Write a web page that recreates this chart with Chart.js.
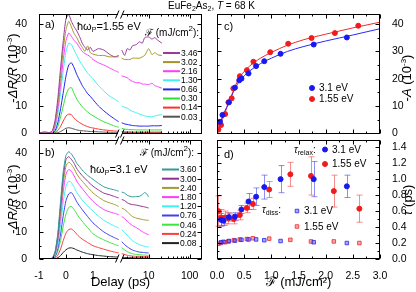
<!DOCTYPE html>
<html lang="en">
<head>
<meta charset="UTF-8">
<title>EuFe2As2 pump-probe</title>
<script src="https://cdn.jsdelivr.net/npm/chart.js"></script>
<style>
  body { margin: 0; background: #fff; }
  #wrap { position: relative; width: 416px; height: 292px; overflow: hidden;
          font-family: 'Liberation Sans', Arial, sans-serif; color: #000; }
  canvas { position: absolute; left: 0; top: 0; }
  .t { position: absolute; white-space: nowrap; font-size: 11px; line-height: 11px; }
  .s { font-size: 10px; line-height: 10px; }
  .t sub { font-size: 7px; line-height: 0; vertical-align: -2px; }
  .t sup, .v sup { font-size: 8px; line-height: 0; vertical-align: 5px; }
  .v { position: absolute; white-space: nowrap; font-size: 13px; line-height: 13px;
       transform: translate(-50%, -50%) rotate(-90deg); }
</style>
</head>
<body>
<div id="wrap">
  <canvas id="ca" width="416" height="292"></canvas>
  <canvas id="cb" width="416" height="292"></canvas>
  <canvas id="cc" width="416" height="292"></canvas>
  <canvas id="cd" width="416" height="292"></canvas>

  <div class="t s" style="left:168px;top:1px">EuFe<sub>2</sub>As<sub>2</sub>, <i>T</i> = 68 K</div>

  <div class="t" style="left:45px;top:19px">a)</div>
  <div class="t" style="left:77px;top:21px">ħω<sub>P</sub>=1.55 eV</div>
  <div class="t s" style="left:145px;top:28px">ℱ (mJ/cm<sup>2</sup>):</div>

  <div class="t" style="left:45px;top:147px">b)</div>
  <div class="t" style="left:90px;top:164px">ħω<sub>P</sub>=3.1 eV</div>
  <div class="t s" style="left:140px;top:148px">ℱ (mJ/cm<sup>2</sup>):</div>

  <div class="t" style="left:224px;top:21px">c)</div>
  <div class="t" style="left:224px;top:149px">d)</div>
  <div class="t s" style="left:294px;top:145px"><i>τ</i><sub>relax</sub>:</div>
  <div class="t s" style="left:262px;top:205px"><i>τ</i><sub>diss</sub>:</div>

  <div class="v" style="left:12px;top:68px">-<i>ΔR/R</i> (10<sup>-3</sup>)</div>
  <div class="v" style="left:12px;top:199px">-<i>ΔR/R</i> (10<sup>-3</sup>)</div>
  <div class="v" style="left:406px;top:78px">-<i>A</i> (10<sup>-3</sup>)</div>
  <div class="v" style="left:407px;top:200px"><i>τ</i> (ps)</div>
</div>

<script>
// ---------------- data ----------------
// delay axis: linear up to 2 ps, log after that
const delayTicks = [-1, 0, 1, 10, 100];
const BREAK = 2;

// panel a, pump 1.55 eV
const tA = [-1, -0.8, -0.6, -0.5, -0.4, -0.3, -0.2, -0.1, 0, 0.1, 0.2, 0.3, 0.4, 0.5, 0.6, 0.7, 0.8, 0.9, 1.0,
            1.2, 1.4, 1.6, 1.8, 1.95, 2.05, 2.2, 2.6, 3, 3.5, 4, 5, 6, 7, 8, 10, 12, 14, 17, 21];
const a346 = [0, 0.5, 0.2, 1.0, 5, 13, 24, 34, 42, 43.5, 41, 39, 37.5, 35.5, 33, 31.5, 30.5, 31.5, 30,
              31, 30.5, 29, 28, 28.5, null, 30.5, 28.5, 31, 30.5, 32, 32.5, 33.5, 33, 35, 35.3, 34.5, 35, 34, 33];
const a302 = [0, 0, 0.3, 0.8, 4, 11, 21, 31, 38, 41, 39, 36.5, 35, 33, 31.5, 30, 32, 29.5, 29,
              28.5, 28.5, 28, 28, 28, null, 27.5, 27, 27, 27, 27.5, 27.5, 27.5, 28, 28.5, 31, 28.8, 29.5, 28.7, 28.5];
const a216 = [0, 0, 0, 0, 3, 9, 18, 27, 34, 36.7, 35.5, 34, 33, 31.5, 30, 29.2, 28.7, 28, 27,
              25.8, 25, 24, 23, 22.3, null, 21, 20.7, 20.3, 19.5, 19, 18.5, 18.5, 18, 18, 17.8, 18.3, 17.5, 17, 16.5];
const a130 = [0, 0, 0, 0, 2, 7, 15, 23, 30, 33, 32.5, 30.5, 28.5, 26.5, 25, 23.5, 22, 21, 20,
              17.5, 15.5, 13.7, 12.5, 11.5, null, 10, 9.5, 9.2, 8.5, 8, 7.5, 7, 6.6, 6.3, 6.1, 6.0, 6.3, 6.6, 6.9];
const a066 = [0, 0, 0, 0, 1, 4, 9, 15, 21, 25, 25.8, 24, 21.5, 19.5, 17.5, 16, 14.5, 13.5, 12.3,
              10, 8.2, 6.6, 5.2, 4.2, null, 3.8, 3.4, 3.2, 3.0, 2.8, 2.7, 2.6, 2.6, 2.6, 2.6, 2.7, 2.7, 2.7, 2.8];
const a030 = [0, 0, 0, 0, 0.5, 2.5, 6, 10, 14, 16.3, 16.7, 14.5, 12.5, 11, 9.7, 8.7, 7.8, 7, 6.4,
              5.2, 4.2, 3.4, 2.6, 2.2, null, 1.8, 1.5, 1.4, 1.3, 1.3, 1.2, 1.2, 1.2, 1.2, 1.2, 1.2, 1.2, 1.2, 1.2];
const a014 = [0, 0, 0, 0, 0.2, 1, 2.5, 4.5, 6.3, 7, 6.8, 5.5, 4.6, 3.9, 3.3, 2.8, 2.4, 2.1, 1.9,
              1.5, 1.2, 1.0, 0.8, 0.7, null, 0.6, 0.5, 0.5, 0.5, 0.4, 0.4, 0.4, 0.4, 0.4, 0.4, 0.4, 0.4, 0.4, 0.4];
const a003 = [0, 0, 0, 0, 0, 0.2, 0.6, 1.2, 1.8, 2.0, 1.8, 1.5, 1.2, 1.0, 0.9, 0.8, 0.7, 0.6, 0.6,
              0.5, 0.4, 0.35, 0.3, 0.3, null, 0.3, 0.25, 0.2, 0.2, 0.2, 0.2, 0.2, 0.2, 0.2, 0.2, 0.2, 0.2, 0.2, 0.2];
const fluA = ['3.46', '3.02', '2.16', '1.30', '0.66', '0.30', '0.14', '0.03'];
const colA = ['#9c3a9c', '#a29526', '#ff3cff', '#40f0f0', '#2020f0', '#30e030', '#ff3030', '#555555'];

// panel b, pump 3.1 eV
const tB = [-1, -0.8, -0.6, -0.5, -0.4, -0.3, -0.2, -0.1, 0, 0.1, 0.2, 0.3, 0.4, 0.5, 0.6, 0.8, 1.0,
            1.2, 1.4, 1.6, 1.8, 1.95, 2.05, 2.2, 2.6, 3, 3.5, 4, 5, 6, 7, 8, 9, 10];
const b360 = [0, 0, 0, 0.5, 3, 10, 22, 33, 39, 40.4, 39.5, 38, 36, 34.8, 33.5, 31.5, 30,
              28.5, 27.2, 26.5, 26, 25.5, null, 25.2, 24.8, 24, 23.6, 23.4, 23.5, 23.6, 24.3, 25, 24.5, 23.3];
const b300 = [0, 0, 0, 0.4, 2.7, 9, 20, 31, 37.5, 38.5, 37.5, 36, 34, 32.6, 31.4, 29.3, 27.4,
              26, 24.8, 24.2, 23.5, 23, null, 22.4, 22, 21.2, 20.7, 20.5, 20.3, 20, 19.8, 19.6, 19.4, 19.2];
const b240 = [0, 0, 0, 0.3, 2.4, 8, 18, 28.5, 35, 36.5, 35.6, 34, 32, 30.5, 29.3, 27, 24.9,
              23.3, 22, 21.2, 20.5, 19.8, null, 19.2, 18.6, 17.8, 16.8, 16, 15.4, 15.1, 14.9, 14.7, 14.6, 14.6];
const b180 = [0, 0, 0, 0.2, 2, 7, 16, 25.5, 32, 33.7, 33, 31.3, 29.3, 27.8, 26.5, 24, 21.7,
              20, 18.6, 17.8, 17.2, 16.7, null, 16, 15.2, 14.2, 13.3, 12.6, 11.8, 11, 10.3, 9.8, 9.4, 9.2];
const b120 = [0, 0, 0, 0.2, 1.5, 5.5, 13, 21.5, 27.5, 29.3, 28.8, 27, 25, 23.6, 22.2, 20, 18,
              16.2, 14.6, 13.4, 12.4, 11.7, null, 11, 10, 9, 7.8, 6.9, 6, 5.4, 5, 4.8, 4.6, 4.5];
const b076 = [0, 0, 0, 0.1, 1, 4, 9.5, 16.5, 22, 24.5, 25, 23.5, 21.5, 20, 18.6, 16, 13.6,
              11.8, 10.2, 9, 8, 7.3, null, 6.5, 5.4, 4.6, 3.9, 3.4, 2.9, 2.6, 2.5, 2.4, 2.3, 2.3];
const b046 = [0, 0, 0, 0.1, 0.8, 3, 7, 12.5, 17, 19.4, 19.8, 18.6, 17, 15.5, 14.2, 11.8, 9.5,
              8.2, 7.2, 6.3, 5.5, 5, null, 4.3, 3.4, 2.8, 2.3, 2, 1.7, 1.6, 1.5, 1.5, 1.4, 1.4];
const b024 = [0, 0, 0, 0, 0.4, 1.5, 3.8, 7, 9.8, 11.1, 11.3, 10.5, 9.3, 8.3, 7.5, 6.2, 5,
              4.3, 3.7, 3.1, 2.6, 2.3, null, 2, 1.7, 1.4, 1.2, 1.1, 1, 1, 0.9, 0.9, 0.9, 0.9];
const b008 = [0, 0, 0, 0, 0.1, 0.5, 1.3, 2.5, 3.5, 4.1, 4.2, 3.9, 3.4, 3, 2.6, 2, 1.6,
              1.3, 1.1, 0.9, 0.8, 0.7, null, 0.6, 0.5, 0.5, 0.45, 0.45, 0.4, 0.4, 0.4, 0.4, 0.4, 0.4];
const fluB = ['3.60', '3.00', '2.40', '1.80', '1.20', '0.76', '0.46', '0.24', '0.08'];
const colB = ['#2e9a9a', '#8e2f8e', '#a29a30', '#ff3cff', '#40f2f2', '#4040f0', '#3ce63c', '#ff3c3c', '#222222'];

// panel c, amplitude vs fluence
const cF31 = [0.055, 0.10, 0.22, 0.33, 0.41, 0.45, 0.58, 0.72, 0.87, 1.17, 1.78, 2.39];
const cA31 = [4.2, 6.7, 11.3, 16.7, 19.4, 20.0, 21.9, 24.6, 26.4, 29.1, 32.5, 35.1];
const cF155 = [0.025, 0.074, 0.15, 0.21, 0.27, 0.30, 0.42, 0.55, 0.67, 0.98, 1.31, 1.74, 2.17, 2.60];
const cA155 = [1.3, 3.0, 7.0, 11.3, 12.8, 16.4, 20.9, 23.1, 26.2, 29.7, 32.8, 34.9, 36.7, 39.4];
const fitF = [0, 0.05, 0.1, 0.2, 0.3, 0.4, 0.5, 0.6, 0.8, 1.0, 1.3, 1.6, 2.0, 2.5, 3.0];
const fit31 = [0, 3, 6, 10.5, 15, 18.7, 21, 22.8, 25.5, 27.5, 30, 31.8, 33.8, 36, 38.3];
const fit155 = [0, 2.5, 5, 10.3, 15.5, 20, 22.6, 24.6, 27.5, 29.6, 32.3, 34.3, 36.3, 38.6, 40.7];

// panel d, time constants vs fluence
const dF31 = [0.074, 0.12, 0.22, 0.33, 0.45, 0.58, 0.72, 0.87, 1.17, 1.78, 2.39];
const relax31 = [0.49, 0.48, 0.525, 0.53, 0.62, 0.72, 0.78, 0.9, 1.0, 1.0, 0.91];
const relaxErr31 = [0.08, 0.06, 0.05, 0.05, 0.05, 0.1, 0.11, 0.15, 0.17, 0.22, 0.14];
const diss31 = [0.21, 0.215, 0.225, 0.23, 0.24, 0.245, 0.245, 0.235, 0.225, 0.21, 0.2];
const dF155 = [0.025, 0.07, 0.15, 0.21, 0.31, 0.42, 0.55, 0.66, 0.96, 1.35, 1.73, 2.15, 2.62];
const relax155 = [0.6, 0.52, 0.52, 0.51, 0.5, 0.55, 0.64, 0.69, 0.87, 1.06, 1.04, 0.85, 0.63];
const relaxErr155 = [0.19, 0.1, 0.08, 0.07, 0.06, 0.06, 0.06, 0.07, 0.1, 0.15, 0.24, 0.2, 0.17];
const diss155 = [0.19, 0.2, 0.21, 0.22, 0.235, 0.245, 0.25, 0.26, 0.255, 0.24, 0.22, 0.22, 0.2];

// ---------------- broken delay scale ----------------
class DelayScale extends Chart.Scale {
  determineDataLimits() {
    this.min = this.options.min;
    this.max = this.options.max;
  }
  buildTicks() {
    return delayTicks.map(v => ({ value: v }));
  }
  getLabelForValue(v) { return String(v); }
  getPixelForValue(v) {
    const split = 0.497;
    const f = v <= BREAK
      ? (v - this.min) / (BREAK - this.min) * split
      : split + Math.log10(v / BREAK) / Math.log10(this.max / BREAK) * (1 - split);
    return this.getPixelForDecimal(f);
  }
  getValueForPixel(p) {
    const split = 0.497;
    const f = this.getDecimalForPixel(p);
    return f <= split
      ? this.min + f / split * (BREAK - this.min)
      : BREAK * Math.pow(this.max / BREAK, (f - split) / (1 - split));
  }
  getPixelForTick(i) { return this.getPixelForValue(this.ticks[i].value); }
}
DelayScale.id = 'delay';
DelayScale.defaults = {};
Chart.register(DelayScale);

// frame, inward ticks, axis break, error bars and keys
const deco = {
  id: 'deco',
  beforeDatasetsDraw(chart, args, o) {
    const { ctx } = chart;
    const { x, y } = chart.scales;
    (o.errors || []).forEach(e => {
      const ds = chart.data.datasets[e.ds];
      ctx.save();
      ctx.strokeStyle = e.color;
      ctx.lineWidth = 1;
      ds.data.forEach((p, i) => {
        const px = Math.round(x.getPixelForValue(p.x)) + 0.5;
        const y1 = y.getPixelForValue(p.y - e.err[i]);
        const y2 = y.getPixelForValue(p.y + e.err[i]);
        ctx.beginPath();
        ctx.moveTo(px, y1); ctx.lineTo(px, y2);
        ctx.moveTo(px - 3, y1); ctx.lineTo(px + 3, y1);
        ctx.moveTo(px - 3, y2); ctx.lineTo(px + 3, y2);
        ctx.stroke();
      });
      ctx.restore();
    });
  },
  afterDraw(chart, args, o) {
    const { ctx, chartArea: a } = chart;
    const { x, y } = chart.scales;
    ctx.save();
    ctx.strokeStyle = '#000';
    ctx.lineWidth = 1;
    const L = Math.round(a.left) + 0.5, R = Math.round(a.right) - 0.5;
    const T = Math.round(a.top) + 0.5, B = Math.round(a.bottom) - 0.5;
    ctx.strokeRect(L, T, R - L, B - T);
    const tick = (sc, vals, len) => (vals || []).forEach(v => {
      const p = Math.round(sc.getPixelForValue(v)) + 0.5;
      ctx.beginPath();
      if (sc === x) {
        ctx.moveTo(p, B); ctx.lineTo(p, B - len);
        ctx.moveTo(p, T); ctx.lineTo(p, T + len);
      } else {
        ctx.moveTo(L, p); ctx.lineTo(L + len, p);
        ctx.moveTo(R, p); ctx.lineTo(R - len, p);
      }
      ctx.stroke();
    });
    tick(x, o.xMajor, 4); tick(x, o.xMinor, 2);
    tick(y, o.yMajor, 4); tick(y, o.yMinor, 2);

    if (o.brk) {
      const p = x.getPixelForValue(o.brk);
      [T, B].forEach(yy => {
        ctx.fillStyle = '#fff';
        ctx.fillRect(p - 2, yy - 1.5, 4, 3);
        ctx.beginPath();
        ctx.moveTo(p - 4.5, yy + 4); ctx.lineTo(p - 1, yy - 4);
        ctx.moveTo(p + 0.5, yy + 4); ctx.lineTo(p + 4, yy - 4);
        ctx.stroke();
      });
    }

    ctx.font = (o.keyFont || 10) + "px 'Liberation Sans', Arial, sans-serif";
    ctx.textBaseline = 'middle';
    (o.keys || []).forEach(k => {
      const ds = chart.data.datasets[k.ds];
      if (k.line) {
        ctx.strokeStyle = ds.borderColor;
        ctx.lineWidth = 2;
        ctx.beginPath();
        ctx.moveTo(k.x, k.y); ctx.lineTo(k.x + 17, k.y);
        ctx.stroke();
        ctx.fillStyle = '#000';
        ctx.fillText(ds.label, k.x + 18, k.y + 0.5);
      } else {
        ctx.fillStyle = ds.backgroundColor;
        ctx.strokeStyle = ds.borderColor;
        ctx.lineWidth = ds.borderWidth || 1;
        Chart.helpers.drawPoint(ctx, { pointStyle: ds.pointStyle || 'circle', radius: ds.pointRadius,
          borderWidth: ds.borderWidth || 1, rotation: 0 }, k.x, k.y);
        ctx.fillStyle = '#000';
        ctx.fillText(ds.label, k.x + 7, k.y + 0.5);
      }
    });
    ctx.restore();
  }
};
Chart.register(deco);

Chart.defaults.font.family = "'Liberation Sans', Arial, sans-serif";
Chart.defaults.font.size = 10.5;
Chart.defaults.color = '#000';

function curves(t, list, labels, colors) {
  return list.map((v, i) => ({
    label: labels[i],
    data: t.map((x, j) => ({ x: x, y: v[j] })),
    borderColor: colors[i],
    borderWidth: 1,
    pointRadius: 0,
    tension: 0.2,
    spanGaps: false
  }));
}

function pts(xs, ys) {
  return xs.map((x, i) => ({ x: x, y: ys[i] }));
}

function fixTicks(vals) {
  return s => { s.ticks = vals.map(v => ({ value: v })); };
}

function opts(pad, xs, ys, d) {
  return {
    responsive: false, animation: false, devicePixelRatio: 1, events: [],
    layout: { padding: pad },
    plugins: { legend: { display: false }, tooltip: { enabled: false }, deco: d },
    scales: { x: xs, y: ys }
  };
}

const delayMinor = [-0.5, 0.5, 1.5, 3, 4, 5, 6, 7, 8, 9, 20, 30, 40, 50, 60, 70, 80, 90];
const fluMinor = [0.25, 0.75, 1.25, 1.75, 2.25, 2.75];

// ---------------- panel a ----------------
new Chart(document.getElementById('ca'), {
  type: 'line',
  data: { datasets: curves(tA, [a346, a302, a216, a130, a066, a030, a014, a003], fluA, colA) },
  options: opts({ left: 0, top: 14, right: 214, bottom: 158 },
    { type: 'delay', position: 'bottom', min: -1, max: 200, display: false },
    { type: 'linear', position: 'left', min: -0.3, max: 43.7,
      grid: { display: false }, border: { display: false },
      ticks: { padding: 4 },
      afterBuildTicks: fixTicks([0, 10, 20, 30, 40]),
      afterFit: s => { s.width = 39; } },
    { xMajor: delayTicks, xMinor: delayMinor, yMajor: [0, 10, 20, 30, 40], yMinor: [5, 15, 25, 35],
      brk: BREAK, keyFont: 8.5,
      keys: fluA.map((f, i) => ({ ds: i, line: true, x: 163, y: 53 + i * 9.1 })) })
});

// ---------------- panel b ----------------
new Chart(document.getElementById('cb'), {
  type: 'line',
  data: { datasets: curves(tB, [b360, b300, b240, b180, b120, b076, b046, b024, b008], fluB, colB) },
  options: opts({ left: 0, top: 140, right: 214, bottom: 0 },
    { type: 'delay', position: 'bottom', min: -1, max: 200,
      grid: { display: false }, border: { display: false },
      ticks: { padding: 3, autoSkip: false, maxRotation: 0 },
      title: { display: true, text: 'Delay (ps)', font: { size: 13 }, padding: { top: 0, bottom: 2 } },
      afterFit: s => { s.height = 33; } },
    { type: 'linear', position: 'left', min: 0, max: 44.8,
      grid: { display: false }, border: { display: false },
      ticks: { padding: 4 },
      afterBuildTicks: fixTicks([0, 10, 20, 30, 40]),
      afterFit: s => { s.width = 39; } },
    { xMajor: delayTicks, xMinor: delayMinor, yMajor: [0, 10, 20, 30, 40], yMinor: [5, 15, 25, 35],
      brk: BREAK, keyFont: 8.5,
      keys: fluB.map((f, i) => ({ ds: i, line: true, x: 162, y: 169.5 + i * 9.2 })) })
});

// ---------------- panel c ----------------
new Chart(document.getElementById('cc'), {
  type: 'scatter',
  data: {
    datasets: [
      { label: '3.1 eV', data: pts(cF31, cA31), pointRadius: 2.5, borderWidth: 1,
        backgroundColor: '#1818f0', borderColor: '#1818f0' },
      { label: '1.55 eV', data: pts(cF155, cA155), pointRadius: 2.5, borderWidth: 1,
        backgroundColor: '#f01c1c', borderColor: '#f01c1c' },
      { label: 'fit 3.1', data: pts(fitF, fit31), showLine: true, pointRadius: 0, borderWidth: 1,
        borderColor: '#2a2af0', cubicInterpolationMode: 'monotone' },
      { label: 'fit 1.55', data: pts(fitF, fit155), showLine: true, pointRadius: 0, borderWidth: 1,
        borderColor: '#f02a2a', cubicInterpolationMode: 'monotone' }
    ]
  },
  options: opts({ left: 217, top: 14, right: 0, bottom: 158 },
    { type: 'linear', position: 'bottom', min: 0, max: 3.0, display: false },
    { type: 'linear', position: 'right', min: -0.3, max: 43.7,
      grid: { display: false }, border: { display: false },
      ticks: { padding: 4 },
      afterBuildTicks: fixTicks([0, 10, 20, 30, 40]),
      afterFit: s => { s.width = 36; } },
    { xMajor: [0, 0.5, 1, 1.5, 2, 2.5, 3], xMinor: fluMinor, yMajor: [0, 10, 20, 30, 40], yMinor: [5, 15, 25, 35],
      keyFont: 10,
      keys: [{ ds: 0, x: 312, y: 88 }, { ds: 1, x: 312, y: 99 }] })
});

// ---------------- panel d ----------------
new Chart(document.getElementById('cd'), {
  type: 'scatter',
  data: {
    datasets: [
      { label: '3.1 eV', data: pts(dF31, relax31), pointRadius: 2.5, borderWidth: 1,
        backgroundColor: '#1818f0', borderColor: '#1818f0' },
      { label: '1.55 eV', data: pts(dF155, relax155), pointRadius: 2.5, borderWidth: 1,
        backgroundColor: '#f01c1c', borderColor: '#f01c1c' },
      { label: '3.1 eV', data: pts(dF31, diss31), pointStyle: 'rect', pointRadius: 2.5, borderWidth: 1,
        backgroundColor: 'rgba(60,60,240,0.45)', borderColor: 'rgba(40,40,240,0.8)' },
      { label: '1.55 eV', data: pts(dF155, diss155), pointStyle: 'rect', pointRadius: 2.5, borderWidth: 1,
        backgroundColor: 'rgba(240,60,60,0.45)', borderColor: 'rgba(240,40,40,0.8)' }
    ]
  },
  options: opts({ left: 217, top: 140, right: 0, bottom: 0 },
    { type: 'linear', position: 'bottom', min: 0, max: 3.0,
      grid: { display: false }, border: { display: false },
      ticks: { padding: 3, maxRotation: 0, callback: v => v.toFixed(1) },
      afterBuildTicks: fixTicks([0, 0.5, 1, 1.5, 2, 2.5, 3]),
      title: { display: true, text: 'ℱ (mJ/cm²)', font: { size: 13 }, padding: { top: 0, bottom: 2 } },
      afterFit: s => { s.height = 33; } },
    { type: 'linear', position: 'right', min: 0, max: 1.49,
      grid: { display: false }, border: { display: false },
      ticks: { padding: 4, callback: v => v.toFixed(1) },
      afterBuildTicks: fixTicks([0, 0.2, 0.4, 0.6, 0.8, 1.0, 1.2, 1.4]),
      afterFit: s => { s.width = 36; } },
    { xMajor: [0, 0.5, 1, 1.5, 2, 2.5, 3], xMinor: fluMinor,
      yMajor: [0, 0.2, 0.4, 0.6, 0.8, 1.0, 1.2, 1.4], yMinor: [0.1, 0.3, 0.5, 0.7, 0.9, 1.1, 1.3],
      keyFont: 10,
      errors: [{ ds: 0, err: relaxErr31, color: 'rgba(50,50,240,0.55)' },
               { ds: 1, err: relaxErr155, color: 'rgba(240,50,50,0.55)' }],
      keys: [{ ds: 0, x: 325, y: 149.5 }, { ds: 1, x: 325, y: 164 },
             { ds: 2, x: 297, y: 211 }, { ds: 3, x: 297, y: 226.5 }] })
});
</script>
</body>
</html>
